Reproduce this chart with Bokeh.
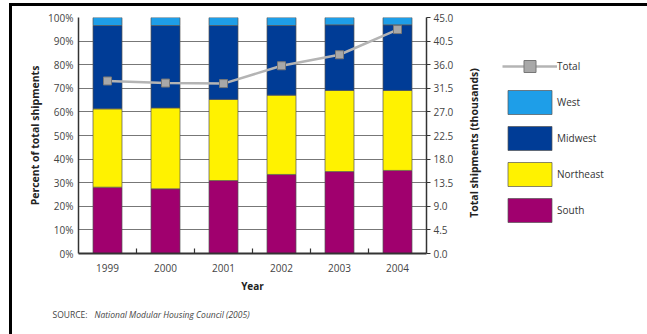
import math
from bokeh.plotting import figure
from bokeh.layouts import row, column
from bokeh.models import (Range1d, LinearAxis, FixedTicker, PrintfTickFormatter, NumeralTickFormatter,
                          Legend, LegendItem, Label, ColumnDataSource, InlineStyleSheet)
from bokeh.embed import file_html
from bokeh.resources import INLINE

# ---- data ----
years = [1999, 2000, 2001, 2002, 2003, 2004]
year_dividers = [1999.5, 2000.5, 2001.5, 2002.5, 2003.5]
south = [28.1, 27.4, 30.9, 33.5, 34.7, 35.2]
northeast = [33.2, 34.3, 34.4, 33.6, 34.4, 33.9]
midwest = [35.3, 34.9, 31.3, 29.5, 27.8, 27.8]
west = [3.4, 3.4, 3.4, 3.4, 3.1, 3.1]
total = [32.9, 32.5, 32.4, 35.8, 37.9, 42.7]
regions = ["South", "Northeast", "Midwest", "West"]
colors = ["#a0006e", "#fff200", "#003c96", "#1e9ee8"]
pct_ticks = [0, 10, 20, 30, 40, 50, 60, 70, 80, 90, 100]
total_ticks = [0.0, 4.5, 9.0, 13.5, 18.0, 22.5, 27.0, 31.5, 36.0, 40.5, 45.0]

FONT = "Open Sans"
LINE_STYLE = dict(line_color="#b4b4b4", line_width=2.5)
MARK_STYLE = dict(marker="square", size=8, fill_color="#a8a8a8", line_color="#777777", line_width=1)
BAR_LINE = dict(line_color="#555555", line_width=0.7)

# ---------------- main chart ----------------
p = figure(width=460, height=296, x_range=Range1d(1998.5, 2004.5), y_range=Range1d(0, 100),
           output_backend="svg", toolbar_location=None,
           min_border_left=78, min_border_right=34, min_border_top=17, min_border_bottom=43)
p.outline_line_color = None
p.background_fill_color = "white"
p.border_fill_color = "white"

src = ColumnDataSource(dict(year=years, South=south, Northeast=northeast, Midwest=midwest, West=west))
bars = p.vbar_stack(regions, x="year", width=0.5, fill_color=colors, source=src, **BAR_LINE)

p.extra_y_ranges = {"total": Range1d(0, 45)}
p.line(years, total, y_range_name="total", **LINE_STYLE)
p.scatter(years, total, y_range_name="total", **MARK_STYLE)

# left axis
ya = p.yaxis[0]
ya.ticker = FixedTicker(ticks=pct_ticks)
ya.formatter = PrintfTickFormatter(format="%d%%")
ya.axis_label = "Percent of total shipments"
ya.axis_label_text_font = FONT
ya.axis_label_text_font_style = "bold"
ya.axis_label_text_font_size = "10.5px"
ya.axis_label_text_color = "#222222"
ya.axis_label_standoff = 3
ya.major_label_text_font = FONT
ya.major_label_text_font_size = "10px"
ya.major_label_text_color = "#444444"
ya.major_label_standoff = 5
ya.major_tick_out = 0
ya.major_tick_in = 0
ya.minor_tick_out = 0
ya.minor_tick_in = 0
ya.axis_line_color = "#333333"
ya.axis_line_width = 1.5

# x axis
xa = p.xaxis[0]
xa.ticker = FixedTicker(ticks=years, minor_ticks=year_dividers)
xa.formatter = PrintfTickFormatter(format="%d")
xa.axis_label = "Year"
xa.axis_label_text_font = FONT
xa.axis_label_text_font_style = "bold"
xa.axis_label_text_font_size = "10px"
xa.axis_label_text_color = "#222222"
xa.axis_label_standoff = 4
xa.major_label_text_font = FONT
xa.major_label_text_font_size = "10px"
xa.major_label_text_color = "#444444"
xa.major_label_standoff = 4
xa.major_tick_line_color = None
xa.minor_tick_in = 5
xa.minor_tick_out = 0
xa.minor_tick_line_color = "#333333"
xa.minor_tick_line_width = 1.2
xa.axis_line_color = "#333333"
xa.axis_line_width = 2

p.xgrid.visible = False
p.ygrid.grid_line_color = "#777777"
p.ygrid.grid_line_width = 1.2

# right axis
ra = LinearAxis(y_range_name="total", ticker=FixedTicker(ticks=total_ticks),
                formatter=NumeralTickFormatter(format="0.0"))
ra.major_label_text_font = FONT
ra.major_label_text_font_size = "10px"
ra.major_label_text_color = "#444444"
ra.major_label_standoff = 3
ra.major_tick_out = 4
ra.major_tick_in = 0
ra.minor_tick_out = 0
ra.minor_tick_in = 0
ra.axis_line_color = "#333333"
ra.axis_line_width = 1.5
ra.major_tick_line_color = "#333333"
p.add_layout(ra, "right")

# ---------------- right axis title + legend panel ----------------
# (its frame is aligned with the main chart's frame by the row layout)
pl = figure(width=187, height=296, x_range=Range1d(0, 1), y_range=Range1d(0, 1),
            output_backend="svg", toolbar_location=None, x_axis_type=None, y_axis_type=None,
            min_border=0)
pl.outline_line_color = None
pl.background_fill_color = "white"
pl.border_fill_color = "white"
pl.grid.visible = False

pl.add_layout(Label(x=13, y=110.5, x_units="screen", y_units="screen",
                    text="Total shipments (thousands)", angle=math.pi / 2,
                    text_align="center", text_baseline="middle",
                    text_font=FONT, text_font_style="bold", text_font_size="10.5px",
                    text_color="#222222"))

# legend glyph sources (the same series, lying outside this panel's view)
lg_line = pl.line(years, total, **LINE_STYLE)
lg_mark = pl.scatter(years, total, **MARK_STYLE)
items = [LegendItem(label="Total", renderers=[lg_line, lg_mark])]
series = dict(South=south, Northeast=northeast, Midwest=midwest, West=west)
for name, c in zip(reversed(regions), reversed(colors)):
    r = pl.vbar(x=years, top=series[name], width=0.5, fill_color=c, **BAR_LINE)
    items.append(LegendItem(label=name, renderers=[r]))
leg = Legend(items=items, location=(42, 28), orientation="vertical",
             glyph_width=55, glyph_height=30, spacing=6, label_standoff=0,
             padding=0, margin=0, border_line_color=None, background_fill_alpha=0,
             label_text_font=FONT, label_text_font_size="10px", label_text_color="#333333")
pl.add_layout(leg, "center")

# ---------------- source note ----------------
ps = figure(width=647, height=38, x_range=Range1d(0, 1), y_range=Range1d(0, 1),
            output_backend="svg", toolbar_location=None, x_axis_type=None, y_axis_type=None,
            min_border=0)
ps.outline_line_color = None
ps.background_fill_color = "white"
ps.border_fill_color = "white"
ps.grid.visible = False
ps.add_layout(Label(x=52, y=20, x_units="screen", y_units="screen", text="SOURCE:",
                    text_baseline="middle", text_font=FONT, text_font_size="8.5px",
                    text_color="#444444"))
ps.add_layout(Label(x=94, y=20, x_units="screen", y_units="screen",
                    text="National Modular Housing Council (2005)",
                    text_baseline="middle", text_font=FONT, text_font_size="8.5px",
                    text_font_style="italic", text_color="#444444"))

frame_css = InlineStyleSheet(css="""
:host { position: relative; }
:host::after {
  content: "";
  position: absolute;
  left: 9px; top: 3px; right: 0px; bottom: 0px;
  border-top: 3px solid #000;
  border-left: 3px solid #000;
  pointer-events: none;
  z-index: 100;
}
""")

layout = column(row(p, pl, spacing=0), ps, spacing=0, stylesheets=[frame_css])

open("out.html", "w").write(file_html(layout, INLINE))
